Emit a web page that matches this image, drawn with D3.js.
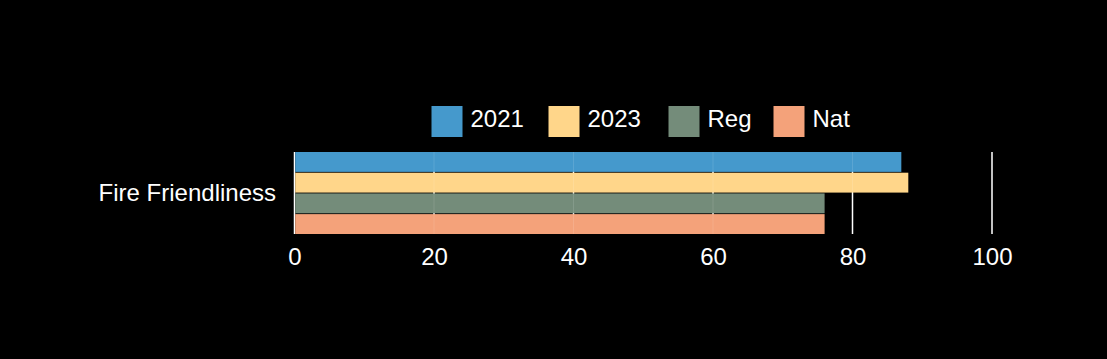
<!DOCTYPE html>
<html><head><meta charset="utf-8">
<script src="https://cdn.jsdelivr.net/npm/d3@7"></script>
<style>body{margin:0;background:#000;}svg{display:block;font-family:"Liberation Sans",Arial,sans-serif;}</style>
</head><body>
<script>
const categories = ["Fire Friendliness"];
const seriesNames = ["2021", "2023", "Reg", "Nat"];
const values2021 = [87];
const values2023 = [88];
const valuesReg = [76];
const valuesNat = [76];
const xTicks = [0, 20, 40, 60, 80, 100];
const colors = ["#4599cc", "#ffd68a", "#748c7a", "#f4a27a"];

const W = 1107, H = 359;
const svg = d3.select("body").append("svg").attr("width", W).attr("height", H);
svg.append("rect").attr("width", W).attr("height", H).attr("fill", "#000");

const x = d3.scaleLinear().domain([0, 100]).range([294.5, 992]);
const y = d3.scaleBand().domain(categories).range([152, 234]).padding(0);
const inner = d3.scaleBand().domain(seriesNames).range([0, y.bandwidth()]).paddingInner(0.04);

// gridlines
svg.append("g").selectAll("line").data(xTicks).join("line")
  .attr("x1", d => x(d)).attr("x2", d => x(d))
  .attr("y1", 152).attr("y2", 234)
  .attr("stroke", "#fff").attr("stroke-width", 1.5);

const seriesData = [values2021, values2023, valuesReg, valuesNat];
const g = svg.append("g");
categories.forEach((c, ci) => {
  seriesNames.forEach((s, si) => {
    g.append("rect")
      .attr("x", x(0) + 0.75)
      .attr("y", y(c) + inner(s))
      .attr("width", x(seriesData[si][ci]) - x(0) - 0.75)
      .attr("height", inner.bandwidth())
      .attr("fill", colors[si]);
  });
});

// faint gridlines over bars
svg.append("g").selectAll("line").data(xTicks.slice(1)).join("line")
  .attr("x1", d => x(d)).attr("x2", d => x(d))
  .attr("y1", 152).attr("y2", 234)
  .attr("stroke", "#fff").attr("stroke-width", 1).attr("stroke-opacity", 0.12);

// x axis labels
const xAxis = d3.axisBottom(x).tickValues(xTicks).tickSize(0).tickPadding(0);
const ax = svg.append("g").attr("transform", "translate(0,0)").call(xAxis);
ax.select(".domain").remove();
ax.selectAll("text").attr("fill", "#fff").attr("font-size", 24).attr("y", 265).attr("dy", null)
  .attr("font-family", "'Liberation Sans', Arial, sans-serif");

// y axis labels
const yAxis = d3.axisLeft(y).tickSize(0).tickPadding(0);
const ay = svg.append("g").attr("transform", "translate(276,0)").call(yAxis);
ay.select(".domain").remove();
ay.selectAll("text").attr("fill", "#fff").attr("font-size", 24).attr("dy", "0.35em")
  .attr("font-family", "'Liberation Sans', Arial, sans-serif");

// legend
const legendX = [431.5, 548.5, 668.5, 773.5];
const lg = svg.append("g");
seriesNames.forEach((s, i) => {
  lg.append("rect").attr("x", legendX[i]).attr("y", 106).attr("width", 31).attr("height", 31).attr("fill", colors[i]);
  lg.append("text").attr("x", legendX[i] + 39).attr("y", 127)
    .attr("fill", "#fff").attr("font-size", 24).text(s);
});
</script>
</body></html>
